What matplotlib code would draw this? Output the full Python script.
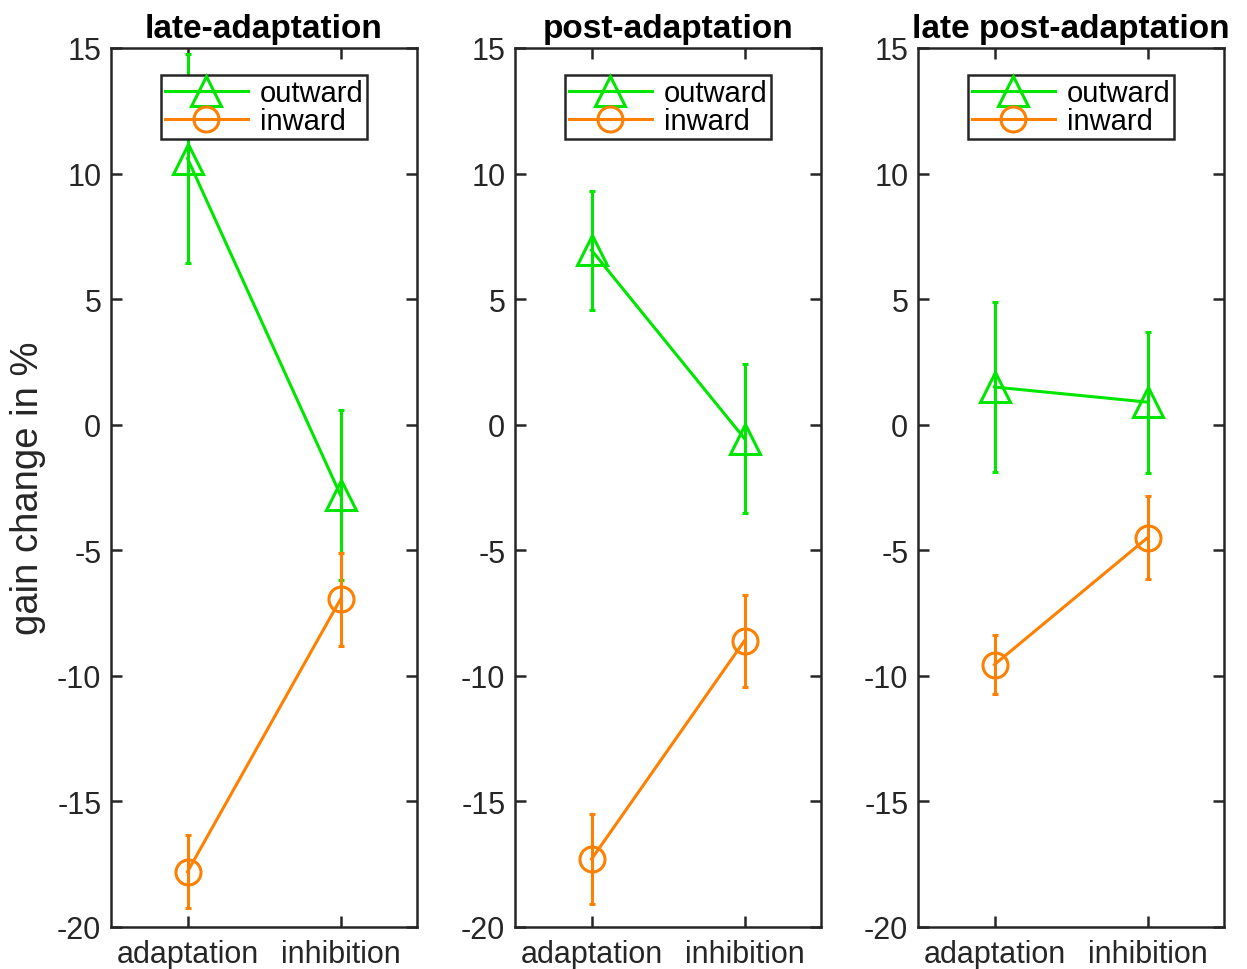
import matplotlib
matplotlib.use("Agg")
import matplotlib.pyplot as plt

plt.rcParams['font.family'] = ['Liberation Sans', 'DejaVu Sans']

conditions = ["adaptation", "inhibition"]
titles = ["late-adaptation", "post-adaptation", "late post-adaptation"]

outward_mean = [[10.6, -2.8], [6.95, -0.55], [1.5, 0.9]]
outward_err = [[4.15, 3.37], [2.37, 2.95], [3.37, 2.81]]
inward_mean = [[-17.8, -6.95], [-17.3, -8.6], [-9.55, -4.5]]
inward_err = [[1.45, 1.85], [1.8, 1.83], [1.18, 1.66]]

yticks = [15, 10, 5, 0, -5, -10, -15, -20]

green = '#00E600'
orange = '#FF8000'
axcol = '#262626'

fig = plt.figure(figsize=(12.47, 9.70), dpi=100)
W, H = 1247, 970
lefts = [111, 515, 918]
aw = 306
top_px, bot_px = 49, 928

x = [1, 2]
for i, left in enumerate(lefts):
    ax = fig.add_axes([left / W, (H - bot_px) / H, aw / W, (bot_px - top_px) / H])
    ax.errorbar(x, outward_mean[i], yerr=outward_err[i], color=green, lw=2.2,
                marker='^', ms=22, mfc='none', mew=2.2, capsize=2.5, capthick=2.2,
                elinewidth=2.2, label='outward')
    ax.errorbar(x, inward_mean[i], yerr=inward_err[i], color=orange, lw=2.2,
                marker='o', ms=18, mfc='none', mew=2.2, capsize=2.5, capthick=2.2,
                elinewidth=2.2, label='inward')
    ax.set_xlim(0.5, 2.5)
    ax.set_ylim(-20, 15)
    ax.set_xticks(x)
    ax.set_xticklabels(conditions)
    ax.set_yticks(yticks)
    ax.set_yticklabels([str(v) for v in yticks])
    ax.tick_params(direction='in', length=8, width=1.8, colors=axcol,
                   labelsize=22, top=True, right=True)
    ax.tick_params(axis='x', pad=9)
    ax.tick_params(axis='y', pad=7)
    for sp in ax.spines.values():
        sp.set_linewidth(1.8)
        sp.set_color(axcol)
    ax.set_title(titles[i], fontsize=24, fontweight='bold', pad=8)
    handles, labels = ax.get_legend_handles_labels()
    handles = [h[0] for h in handles]
    leg = ax.legend(handles, labels, loc='upper center', bbox_to_anchor=(0.5, 0.969),
                    fontsize=21, frameon=True, fancybox=False, edgecolor=axcol,
                    framealpha=1.0,
                    handlelength=2.85, handletextpad=0.4, labelspacing=0.0,
                    borderpad=0.14, borderaxespad=0)
    leg.get_frame().set_linewidth(1.8)
    if i == 0:
        ax.set_ylabel('gain change in %', fontsize=27.5, color=axcol, labelpad=8)

fig.savefig('out.png', dpi=100, facecolor='white')
